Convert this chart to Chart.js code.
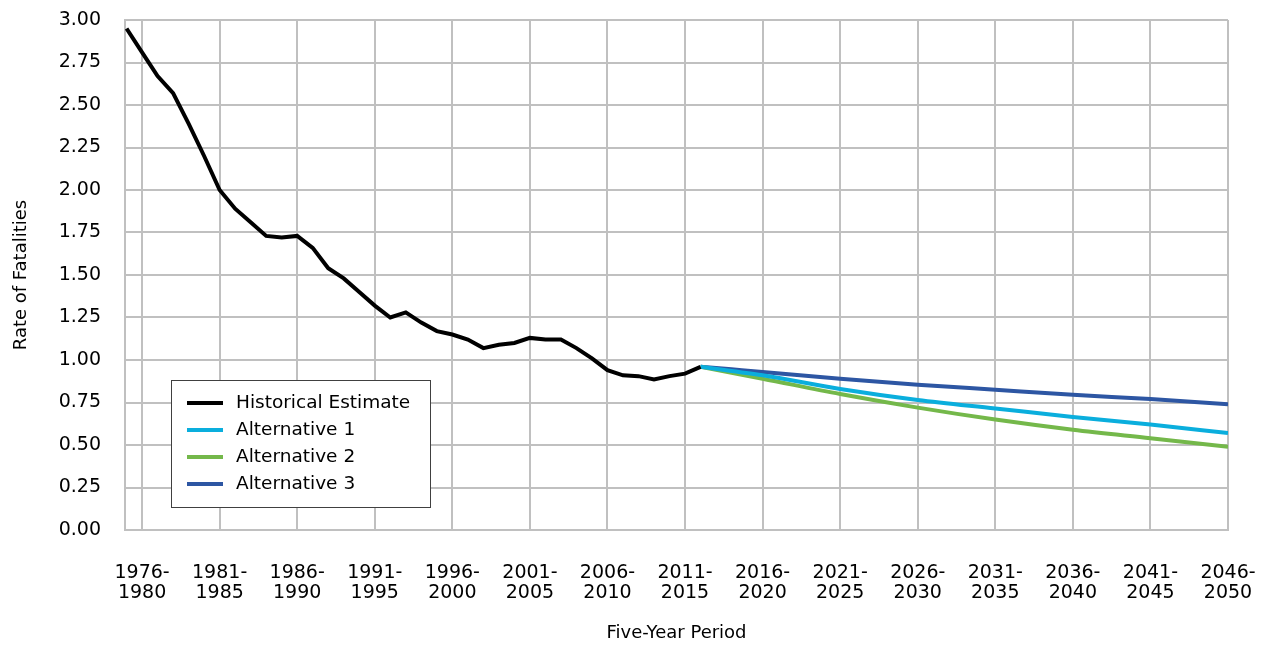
<!DOCTYPE html>
<html>
<head>
<meta charset="utf-8">
<script src="https://cdn.jsdelivr.net/npm/chart.js@4.4.0/dist/chart.umd.min.js"></script>
<style>
  body { margin: 0; background: #fff; }
  #wrap { width: 1270px; height: 645px; }
</style>
</head>
<body>
<div id="wrap"><canvas id="rateChart" width="1270" height="645"></canvas></div>
<script>
// Historical rate of fatalities, one value per year
const histYears = [1979, 1980, 1981, 1982, 1983, 1984, 1985, 1986, 1987, 1988,
    1989, 1990, 1991, 1992, 1993, 1994, 1995, 1996, 1997, 1998,
    1999, 2000, 2001, 2002, 2003, 2004, 2005, 2006, 2007, 2008,
    2009, 2010, 2011, 2012, 2013, 2014, 2015, 2016];
const histValues = [2.95, 2.81, 2.67, 2.57, 2.39, 2.20, 2.00, 1.89, 1.81, 1.73,
    1.72, 1.73, 1.66, 1.54, 1.48, 1.40, 1.32, 1.25, 1.28, 1.22,
    1.17, 1.15, 1.12, 1.07, 1.09, 1.10, 1.13, 1.12, 1.12, 1.07,
    1.01, 0.94, 0.91, 0.905, 0.885, 0.905, 0.92, 0.96];

// Projections
const projYears = [2016, 2018, 2020, 2025, 2030, 2035, 2040, 2045, 2050];
const alt1 = [0.96, 0.935, 0.91, 0.83, 0.765, 0.715, 0.665, 0.62, 0.57];
const alt2 = [0.96, 0.925, 0.89, 0.80, 0.72, 0.65, 0.59, 0.54, 0.49];
const alt3 = [0.96, 0.945, 0.93, 0.89, 0.855, 0.825, 0.795, 0.77, 0.74];

const periodEnds = [1980, 1985, 1990, 1995, 2000, 2005, 2010, 2015, 2020, 2025,
    2030, 2035, 2040, 2045, 2050];
const periodLabels = ['1976-1980', '1981-1985', '1986-1990', '1991-1995', '1996-2000',
    '2001-2005', '2006-2010', '2011-2015', '2016-2020', '2021-2025',
    '2026-2030', '2031-2035', '2036-2040', '2041-2045', '2046-2050'];

const FONT = '"DejaVu Sans", sans-serif';
const GRID = '#c0c0c0';

function pts(xs, ys) {
    return xs.map((x, i) => ({ x: x, y: ys[i] }));
}

// legend drawn inside the plot, lower left
const boxLegend = {
    id: 'boxLegend',
    afterDraw(chart) {
        const ctx = chart.ctx;
        const area = chart.chartArea;
        const x = area.left + 46, y = area.bottom - 150, w = 259, h = 127;
        ctx.save();
        ctx.fillStyle = '#fff';
        ctx.fillRect(x, y, w, h);
        ctx.strokeStyle = '#404040';
        ctx.lineWidth = 1;
        ctx.strokeRect(x + 0.5, y + 0.5, w, h);
        ctx.font = '18.5px ' + FONT;
        ctx.textBaseline = 'middle';
        chart.data.datasets.forEach((ds, i) => {
            const ry = y + 23 + i * 27;
            ctx.strokeStyle = ds.borderColor;
            ctx.lineWidth = 4;
            ctx.beginPath();
            ctx.moveTo(x + 16, ry);
            ctx.lineTo(x + 52, ry);
            ctx.stroke();
            ctx.fillStyle = '#000';
            ctx.fillText(ds.label, x + 65, ry);
        });
        ctx.restore();
    }
};

const ctx = document.getElementById('rateChart').getContext('2d');
const rateChart = new Chart(ctx, {
    type: 'line',
    data: {
        datasets: [
            {
                label: 'Historical Estimate',
                data: pts(histYears, histValues),
                borderColor: '#000000',
                borderWidth: 4,
                pointRadius: 0,
                tension: 0
            },
            {
                label: 'Alternative 1',
                data: pts(projYears, alt1),
                borderColor: '#0aaedd',
                borderWidth: 4,
                pointRadius: 0,
                cubicInterpolationMode: 'monotone'
            },
            {
                label: 'Alternative 2',
                data: pts(projYears, alt2),
                borderColor: '#74b84a',
                borderWidth: 4,
                pointRadius: 0,
                cubicInterpolationMode: 'monotone'
            },
            {
                label: 'Alternative 3',
                data: pts(projYears, alt3),
                borderColor: '#2d56a3',
                borderWidth: 4,
                pointRadius: 0,
                cubicInterpolationMode: 'monotone'
            }
        ]
    },
    options: {
        responsive: false,
        animation: false,
        layout: { padding: { top: 20, right: 42, left: 0, bottom: 0 } },
        plugins: {
            legend: { display: false },
            tooltip: { enabled: false }
        },
        scales: {
            x: {
                type: 'linear',
                min: 1978.9,
                max: 2050,
                afterBuildTicks: function(scale) {
                    scale.ticks = periodEnds.map(v => ({ value: v }));
                },
                afterFit: function(scale) {
                    scale.height = 115;
                    scale.paddingLeft = 0;
                    scale.paddingRight = 0;
                },
                grid: { color: GRID, lineWidth: 2, drawTicks: false },
                border: { color: GRID, width: 2 },
                ticks: {
                    autoSkip: false,
                    maxRotation: 0,
                    padding: 33,
                    color: '#000',
                    font: { family: FONT, size: 19, lineHeight: 1.05 },
                    callback: function(value) {
                        const i = periodEnds.indexOf(value);
                        if (i < 0) return '';
                        const parts = periodLabels[i].split('-');
                        return [parts[0] + '-', parts[1]];
                    }
                },
                title: {
                    display: true,
                    text: 'Five-Year Period',
                    color: '#000',
                    font: { family: FONT, size: 18 },
                    padding: { top: 4, bottom: 1 }
                }
            },
            y: {
                min: 0,
                max: 3,
                afterFit: function(scale) {
                    scale.width = 125;
                    scale.paddingTop = 0;
                    scale.paddingBottom = 0;
                },
                grid: { color: GRID, lineWidth: 2, drawTicks: false },
                border: { color: GRID, width: 2 },
                ticks: {
                    stepSize: 0.25,
                    padding: 24,
                    color: '#000',
                    font: { family: FONT, size: 19 },
                    callback: v => v.toFixed(2)
                },
                title: {
                    display: true,
                    text: 'Rate of Fatalities',
                    color: '#000',
                    font: { family: FONT, size: 18 },
                    padding: { top: 11, bottom: 4 }
                }
            }
        }
    },
    plugins: [boxLegend]
});
</script>
</body>
</html>
